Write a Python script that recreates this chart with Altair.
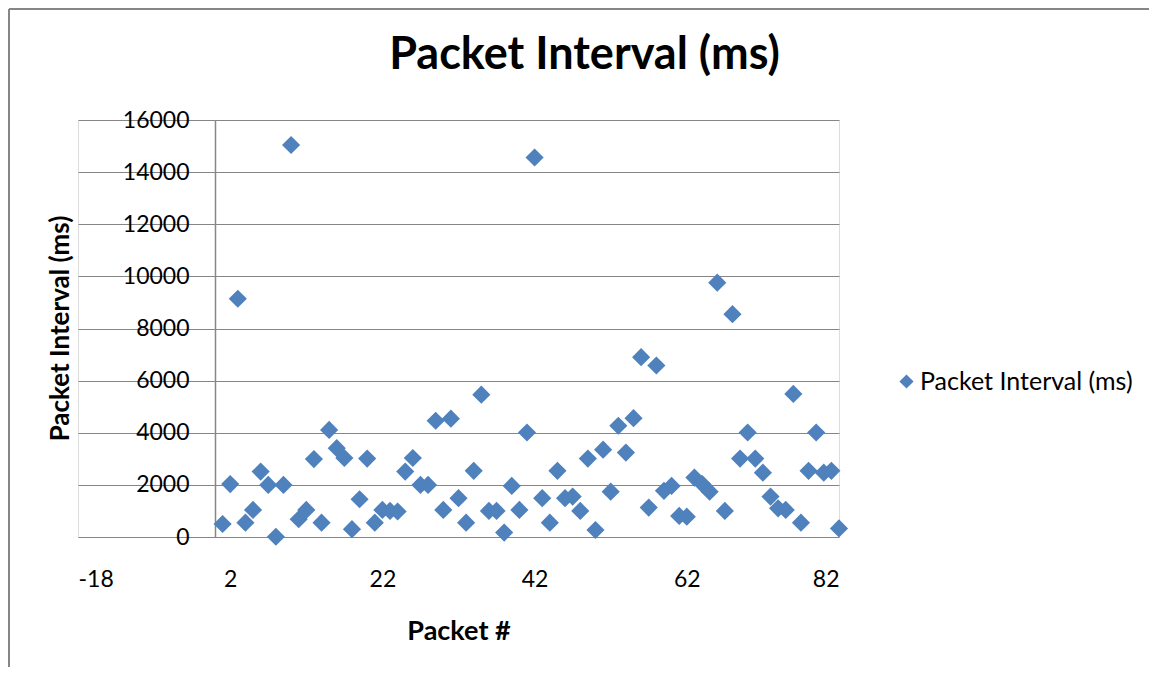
import altair as alt
import pandas as pd

packets = list(range(1, 83))
intervals = [
    500, 2030, 9140, 550, 1040, 2510, 2000, 10, 2000, 15040,
    680, 1040, 2990, 550, 4110, 3410, 3030, 300, 1450, 3010,
    550, 1040, 1000, 980, 2510, 3030, 2000, 2000, 4460, 1040,
    4540, 1490, 550, 2540, 5460, 1000, 1000, 170, 1960, 1040,
    4010, 14560, 1490, 550, 2540, 1490, 1550, 1000, 3010, 270,
    3350, 1740, 4270, 3240, 4560, 6900, 1130, 6580, 1770, 1960,
    810, 780, 2280, 2040, 1740, 9760, 1000, 8550, 3010, 4010,
    3010, 2470, 1550, 1100, 1040, 5490, 550, 2540, 4010, 2470,
    2540, 330,
]
series_name = "Packet Interval (ms)"
x_ticks = [-18, 2, 22, 42, 62, 82]
y_ticks = [0, 2000, 4000, 6000, 8000, 10000, 12000, 14000, 16000]

df = pd.DataFrame({"packet": packets, "interval": intervals, "series": series_name})

FONT = "Lato"
GRID = "#868686"
BLUE = "#4F81BD"

points = alt.Chart(df).mark_point(
    shape="diamond", filled=True, size=330, opacity=1
).encode(
    x=alt.X(
        "packet:Q",
        scale=alt.Scale(domain=[-18, 82], nice=False, zero=False),
        axis=alt.Axis(
            values=x_ticks, grid=False, domain=False, ticks=False,
            labelExpr="'' + datum.value",
            labelPadding=31, labelFontSize=23, labelFont=FONT, labelColor="#000",
            title="Packet #", titleFont=FONT, titleFontSize=27, titleFontWeight="bold",
            titleColor="#000", titlePadding=27,
        ),
    ),
    y=alt.Y(
        "interval:Q",
        scale=alt.Scale(domain=[0, 16000], nice=False),
        axis=alt.Axis(
            values=y_ticks, grid=True, gridColor=GRID, gridWidth=1.2,
            domain=True, domainColor=GRID, domainWidth=1.5,
            ticks=False, offset=-137, labelPadding=26,
            labelExpr="'' + datum.value",
            labelFontSize=23, labelFont=FONT, labelColor="#000",
            title="Packet Interval (ms)", titleFont=FONT, titleFontSize=26,
            titleFontWeight="bold", titleColor="#000",
            titleX=-155, titleY=208, titleBaseline="middle", titleAngle=-90,
        ),
    ),
    color=alt.Color(
        "series:N",
        scale=alt.Scale(range=[BLUE]),
        legend=alt.Legend(
            title=None, orient="none", legendX=816, legendY=249,
            symbolType="diamond", symbolSize=200, symbolStrokeWidth=0,
            labelFont=FONT, labelFontSize=25, labelColor="#000", padding=0,
            labelLimit=0, labelOffset=1,
        ),
    ),
)

frame = pd.DataFrame({"k": [0]})
left_border = alt.Chart(frame).mark_rule(color=GRID, strokeWidth=2).encode(
    x=alt.value(-69), y=alt.value(-111), y2=alt.value(700)
)
top_border = alt.Chart(frame).mark_rule(color=GRID, strokeWidth=2).encode(
    x=alt.value(-69), x2=alt.value(1200), y=alt.value(-111)
)

chart = alt.layer(left_border, top_border, points).properties(
    width=761,
    height=417,
    title=alt.TitleParams(
        "Packet Interval (ms)", font=FONT, fontSize=45, fontWeight="bold",
        color="#000", anchor="middle", frame="group", dx=126, offset=0,
        baseline="alphabetic", dy=106,
    ),
    autosize=alt.AutoSizeParams(type="none"),
    padding={"left": 70, "top": 112, "right": 310, "bottom": 130},
).configure_view(stroke=None).configure(background="white")

chart.save("out.html", embed_options={"renderer": "svg", "actions": False})
